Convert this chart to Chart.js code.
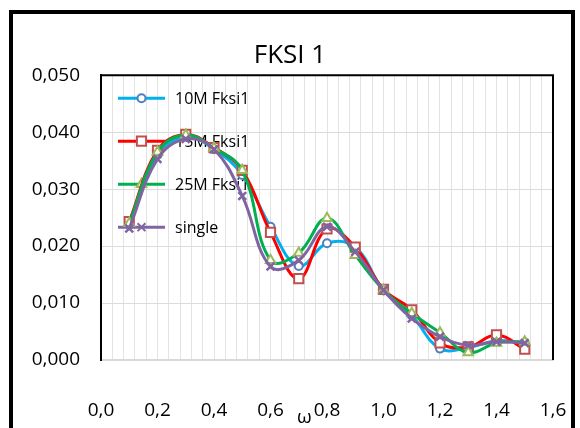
<!DOCTYPE html>
<html>
<head>
<meta charset="utf-8">
<script src="https://cdn.jsdelivr.net/npm/chart.js@4.4.0/dist/chart.umd.min.js"></script>
<style>
  html, body { margin: 0; padding: 0; background: #fff; overflow: hidden; }
  #wrap { position: relative; width: 580px; height: 428px; }
  #frame {
    position: absolute; left: 9px; top: 10px; width: 558px; height: 440px;
    border: 4px solid #000; pointer-events: none;
  }
  canvas { position: absolute; left: 0; top: 0; }
</style>
</head>
<body>
<div id="wrap">
  <canvas id="chart" width="580" height="428"></canvas>
  <div id="frame"></div>
</div>
<script>
const omega = [0.1, 0.2, 0.3, 0.4, 0.5, 0.6, 0.7, 0.8, 0.9, 1.0, 1.1, 1.2, 1.3, 1.4, 1.5];
const fksi10M = [0.0237, 0.0360, 0.0392, 0.0370, 0.0325, 0.0234, 0.0165, 0.0205, 0.0198, 0.0122, 0.0078, 0.0020, 0.0022, 0.0034, 0.0030];
const fksi15M = [0.0243, 0.0368, 0.0396, 0.0373, 0.0333, 0.0224, 0.0143, 0.0230, 0.0198, 0.0124, 0.0088, 0.0030, 0.0023, 0.0044, 0.0019];
const fksi25M = [0.0240, 0.0365, 0.0395, 0.0372, 0.0333, 0.0175, 0.0188, 0.0249, 0.0184, 0.0123, 0.0082, 0.0048, 0.0013, 0.0030, 0.0032];
const single = [0.0231, 0.0353, 0.0388, 0.0370, 0.0288, 0.0164, 0.0175, 0.0234, 0.0190, 0.0123, 0.0073, 0.0041, 0.0026, 0.0032, 0.0030];
const seriesNames = ['10M Fksi1', '15M Fksi1', '25M Fksi1', 'single'];
const xTicks = [0, 0.2, 0.4, 0.6, 0.8, 1.0, 1.2, 1.4, 1.6];
const yTicks = [0, 0.01, 0.02, 0.03, 0.04, 0.05];

const FONT = '"Open Sans", "Noto Sans", sans-serif';

function toPoints(values) {
  return omega.map((x, i) => ({ x: x, y: values[i] }));
}

function drawMarker(ctx, style, x, y, r, stroke, fill) {
  ctx.save();
  ctx.lineWidth = 2;
  ctx.strokeStyle = stroke;
  ctx.fillStyle = fill;
  ctx.beginPath();
  if (style === 'circle') {
    ctx.arc(x, y, r, 0, Math.PI * 2);
    ctx.fill(); ctx.stroke();
  } else if (style === 'rect') {
    const s = r * Math.SQRT1_2;
    ctx.rect(x - s, y - s, s * 2, s * 2);
    ctx.fill(); ctx.stroke();
  } else if (style === 'triangle') {
    ctx.moveTo(x, y - r);
    ctx.lineTo(x + r * 0.87, y + r * 0.5);
    ctx.lineTo(x - r * 0.87, y + r * 0.5);
    ctx.closePath();
    ctx.fill(); ctx.stroke();
  } else if (style === 'crossRot') {
    const s = r * Math.SQRT1_2;
    ctx.moveTo(x - s, y - s); ctx.lineTo(x + s, y + s);
    ctx.moveTo(x + s, y - s); ctx.lineTo(x - s, y + s);
    ctx.stroke();
  }
  ctx.restore();
}

// legend drawn inside the plot, under the lines
const insideLegend = {
  id: 'insideLegend',
  beforeDatasetsDraw(chart) {
    const { ctx, chartArea } = chart;
    const datasets = chart.data.datasets;
    ctx.save();
    datasets.forEach((ds, i) => {
      const y = chartArea.top + 23 + 43 * i;
      const x0 = chartArea.left + 17;
      const x1 = chartArea.left + 64;
      ctx.strokeStyle = ds.borderColor;
      ctx.lineWidth = 3;
      ctx.beginPath();
      ctx.moveTo(x0, y);
      ctx.lineTo(x1, y);
      ctx.stroke();
      drawMarker(ctx, ds.pointStyle, (x0 + x1) / 2, y, ds.pointRadius, ds.pointBorderColor, ds.pointBackgroundColor);
      ctx.fillStyle = '#000';
      ctx.font = '16px ' + FONT;
      ctx.textBaseline = 'middle';
      ctx.textAlign = 'left';
      ctx.fillText(ds.label, chartArea.left + 74, y + 1);
    });
    ctx.restore();
  },
  afterDraw(chart) {
    const { ctx, chartArea } = chart;
    ctx.save();
    // plot frame: black left, top, right
    ctx.strokeStyle = '#000';
    ctx.lineWidth = 2;
    ctx.beginPath();
    ctx.moveTo(chartArea.left, chartArea.bottom);
    ctx.lineTo(chartArea.left, chartArea.top);
    ctx.lineTo(chartArea.right, chartArea.top);
    ctx.lineTo(chartArea.right, chartArea.bottom);
    ctx.stroke();
    // axis title omega
    ctx.fillStyle = '#000';
    ctx.font = '19px ' + FONT;
    ctx.textAlign = 'center';
    ctx.textBaseline = 'middle';
    ctx.fillText('ω', chart.scales.x.getPixelForValue(0.72), 418);
    ctx.restore();
  }
};

const ctx = document.getElementById('chart').getContext('2d');

new Chart(ctx, {
  type: 'line',
  data: {
    datasets: [
      {
        label: seriesNames[0], data: toPoints(fksi10M), order: 4,
        borderColor: '#00B0F0', borderWidth: 3,
        pointStyle: 'circle', pointRadius: 4, pointBorderWidth: 2,
        pointBorderColor: '#4F81BD', pointBackgroundColor: '#fff'
      },
      {
        label: seriesNames[1], data: toPoints(fksi15M), order: 3,
        borderColor: '#FF0000', borderWidth: 3,
        pointStyle: 'rect', pointRadius: 6.5, pointBorderWidth: 2,
        pointBorderColor: '#C0504D', pointBackgroundColor: '#fff'
      },
      {
        label: seriesNames[2], data: toPoints(fksi25M), order: 2,
        borderColor: '#00B050', borderWidth: 3,
        pointStyle: 'triangle', pointRadius: 5.5, pointBorderWidth: 2,
        pointBorderColor: '#9BBB59', pointBackgroundColor: '#fff'
      },
      {
        label: seriesNames[3], data: toPoints(single), order: 1,
        borderColor: '#8064A2', borderWidth: 3,
        pointStyle: 'crossRot', pointRadius: 5.5, pointBorderWidth: 2.5,
        pointBorderColor: '#8064A2', pointBackgroundColor: '#8064A2'
      }
    ]
  },
  options: {
    responsive: false,
    animation: false,
    events: [],
    elements: { line: { tension: 0.4, fill: false } },
    layout: { padding: { top: 0, right: 0, bottom: 0, left: 0 } },
    plugins: {
      legend: { display: false },
      tooltip: { enabled: false },
      title: {
        display: true,
        text: 'FKSI 1',
        color: '#000',
        font: { family: FONT, size: 26, weight: 'normal' },
        padding: { top: 40, bottom: 4 }
      }
    },
    scales: {
      x: {
        type: 'linear',
        min: xTicks[0],
        max: xTicks[xTicks.length - 1],
        afterFit: s => { s.height = 68; s.paddingRight = 27; },
        ticks: {
          stepSize: 0.04,
          maxTicksLimit: 100,
          autoSkip: false,
          maxRotation: 0,
          padding: 39,
          color: '#000',
          font: { family: FONT, size: 19 },
          callback: v => {
            const major = xTicks.find(t => Math.abs(t - v) < 1e-6);
            return major === undefined ? '' : major.toFixed(1).replace('.', ',');
          }
        },
        grid: { color: '#e3e3e3', lineWidth: 1, drawTicks: false },
        border: { color: '#d9d9d9', width: 2 }
      },
      y: {
        min: yTicks[0],
        max: yTicks[yTicks.length - 1],
        afterFit: s => { s.width = 101; },
        ticks: {
          stepSize: 0.01,
          padding: 21,
          color: '#000',
          font: { family: FONT, size: 19 },
          callback: v => v.toFixed(3).replace('.', ',')
        },
        grid: { color: '#dcdcdc', lineWidth: 1, drawTicks: false },
        border: { color: '#000', width: 2 }
      }
    }
  },
  plugins: [insideLegend]
});
</script>
</body>
</html>
